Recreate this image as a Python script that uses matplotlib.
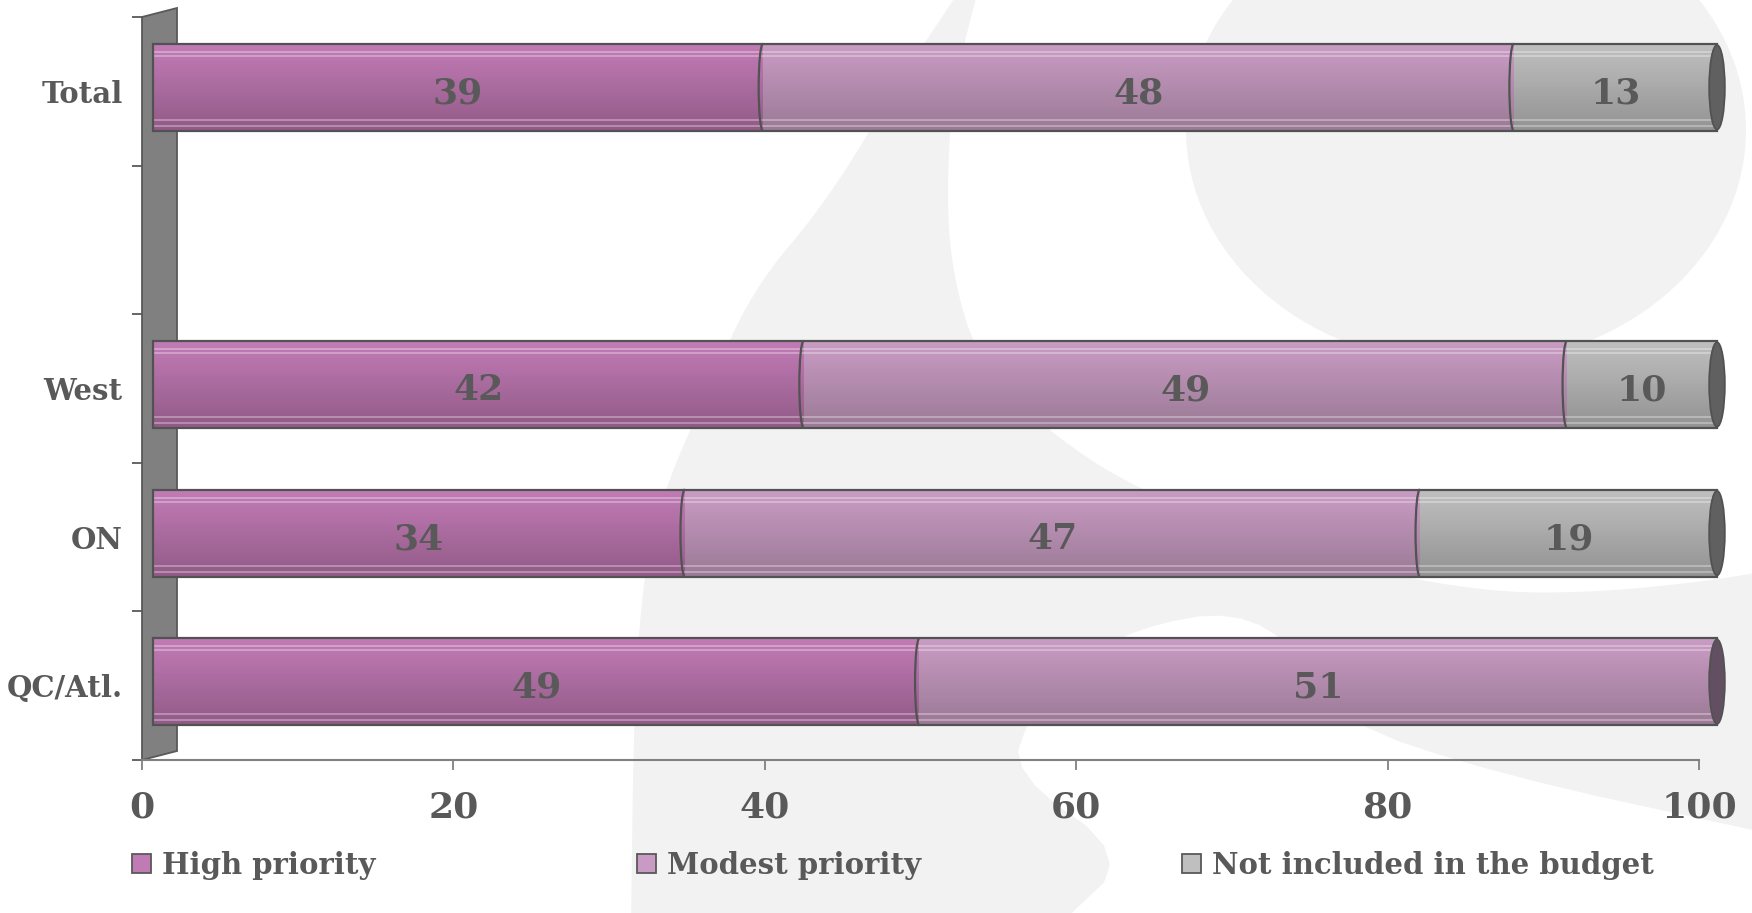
import matplotlib
matplotlib.use("Agg")
import numpy as np
import matplotlib.pyplot as plt
from matplotlib.patches import Rectangle, Ellipse, Polygon, Arc
from matplotlib.transforms import Affine2D
from matplotlib.colors import to_rgb

# ---------------- data ----------------
categories = ["Total", "", "West", "ON", "QC/Atl."]
series_names = ["High priority", "Modest priority", "Not included in the budget"]
high = [39, np.nan, 41.6, 34, 49]
modest = [48, np.nan, 48.8, 47, 51]
not_included = [13, np.nan, 9.6, 19, 0]
x_ticks = [0, 20, 40, 60, 80, 100]

# ---------------- style ----------------
W, H = 1752, 913
TXT = "#595959"
EDGE = "#525252"
FONT = "DejaVu Serif"
top_cols = ["#c27cb7", "#ca9cc5", "#c0c0c0"]
bot_cols = ["#925a87", "#9b7a96", "#939393"]
cap_cols = ["#6a3f62", "#634f62", "#606060"]
legend_cols = ["#c07ab4", "#c99bc4", "#bfbfbf"]

fig = plt.figure(figsize=(W / 100, H / 100), dpi=100)
fig.patch.set_facecolor("white")

# ---------------- faint background watermark ----------------
def smooth(pts, it=3):
    p = np.asarray(pts, float)
    for _ in range(it):
        q = [p[0]]
        for a, b in zip(p[:-1], p[1:]):
            q.append(0.75 * a + 0.25 * b)
            q.append(0.25 * a + 0.75 * b)
        q.append(p[-1])
        p = np.array(q)
    return p

bg = fig.add_axes([0, 0, 1, 1], zorder=0)
bg.set_xlim(0, W)
bg.set_ylim(H, 0)
bg.axis("off")
WM = "#f2f2f2"
outer = smooth([(960, -10), (900, 80), (828, 200), (752, 290), (707, 393),
                (668, 480), (645, 560), (634, 700), (631, 925)])
bg.add_patch(Polygon(np.vstack([outer, [(W + 10, 925), (W + 10, -10)]]),
                     closed=True, fc=WM, ec="none"))
inner = smooth([(978, -10), (955, 80), (947, 167), (950, 267), (980, 367),
                (1059, 440), (1139, 490), (1267, 540), (1379, 573), (1498, 593),
                (1600, 592), (1700, 582), (W + 10, 572)])
bg.add_patch(Polygon(np.vstack([inner, [(W + 10, -10)]]), closed=True,
                     fc="white", ec="none"))
bg.add_patch(Ellipse((1466, 130), 560, 470, fc=WM, ec="none"))
low = smooth([(1059, 925), (1131, 857), (1011, 773), (1030, 715), (1065, 668),
              (1139, 627), (1235, 610), (1300, 650), (1335, 720), (1500, 775),
              (W + 10, 832)], it=2)
bg.add_patch(Polygon(np.vstack([low, [(W + 10, 925)]]), closed=True,
                     fc="white", ec="none"))
# 3D side wall of the chart
bg.add_patch(Polygon([(142, 17), (177, 8), (177, 751), (142, 760)], closed=True,
                     fc="#808080", ec=TXT, lw=1.3))

# ---------------- main axes ----------------
ax = fig.add_axes([142 / W, 1 - 760 / H, (1699 - 142) / W, (760 - 17) / H], zorder=2)
ax.patch.set_alpha(0)

x0 = 142.0
bar_tr = ax.transData + Affine2D().translate(-x0, 0).scale(1.0045, 1).translate(x0 + 11, 4)

def gradient(top, bot, n=44):
    t = np.linspace(0, 1, n)[:, None]
    g = (1 - t) * np.array(to_rgb(top)) + t * np.array(to_rgb(bot))
    for r in (4, 6, n - 6, n - 3):
        g[r] = 0.7 * g[r] + 0.3 * np.ones(3)
    return g[:, None, :]

series = [high, modest, not_included]
bar_h = 0.586
ypos = np.arange(len(categories))
lefts = np.zeros(len(categories))
last_end = {}
for j, vals in enumerate(series):
    grad = gradient(top_cols[j], bot_cols[j])
    for i in ypos:
        v = vals[i]
        if v is None or np.isnan(v) or v <= 0:
            continue
        l = lefts[i]
        rect = Rectangle((l, i - bar_h / 2), v, bar_h, transform=bar_tr,
                         fc="none", ec="none", zorder=4)
        ax.add_patch(rect)
        rect.set_clip_on(False)
        im = ax.imshow(grad, extent=(l, l + v, i + bar_h / 2, i - bar_h / 2),
                       aspect="auto", interpolation="nearest", zorder=3)
        im.set_transform(bar_tr)
        im.set_clip_path(rect)
        if l > 0:
            arc = Arc((l, i), 0.55, bar_h, theta1=90, theta2=270, transform=bar_tr,
                      color=EDGE, lw=1.6, zorder=5)
            ax.add_patch(arc)
            arc.set_clip_on(False)
        ax.text(l + v / 2, i + 0.04, f"{v:.0f}", transform=bar_tr, ha="center",
                va="center", fontsize=26, fontweight="bold", color=TXT,
                family=FONT, zorder=6)
        lefts[i] = l + v
        last_end[i] = (l + v, j)

for i, (end, j) in last_end.items():
    outline = Rectangle((0, i - bar_h / 2), end, bar_h, transform=bar_tr,
                        fc="none", ec=EDGE, lw=1.6, zorder=5)
    ax.add_patch(outline)
    outline.set_clip_on(False)
    cap = Ellipse((end, i), 1.0, bar_h * 0.97, transform=bar_tr,
                  fc=cap_cols[j], ec=EDGE, lw=1.3, zorder=6)
    ax.add_patch(cap)
    cap.set_clip_on(False)

ax.set_xlim(0, 100)
ax.set_ylim(len(categories) - 0.5, -0.5)

ax.set_xticks(x_ticks)
ax.set_xticklabels([str(t) for t in x_ticks], fontsize=26, fontweight="bold",
                   color=TXT, family=FONT)
ax.tick_params(axis="x", length=7, width=1.3, color="#808080", pad=15)
ax.set_yticks(ypos)
ax.set_yticklabels(categories, fontsize=21, fontweight="bold", color=TXT, family=FONT)
ax.tick_params(axis="y", which="major", length=0, pad=14)
ax.set_yticks(np.arange(-0.5, len(categories), 1), minor=True)
ax.tick_params(axis="y", which="minor", length=7, width=1.3, color=TXT)
for s in ("top", "right", "left"):
    ax.spines[s].set_visible(False)
ax.spines["bottom"].set_color("#808080")
ax.spines["bottom"].set_linewidth(1.5)

# ---------------- legend ----------------
leg_x = [132, 637, 1182]
for name, col, x in zip(series_names, legend_cols, leg_x):
    fig.add_artist(Rectangle((x / W, 1 - 873 / H), 19 / W, 19 / H,
                             transform=fig.transFigure, fc=col, ec=TXT, lw=1.3))
    fig.text((x + 30) / W, 1 - 874 / H, name, fontsize=21, fontweight="bold",
             color=TXT, family=FONT, ha="left", va="baseline")

fig.savefig("out.png", dpi=100, facecolor="white")
